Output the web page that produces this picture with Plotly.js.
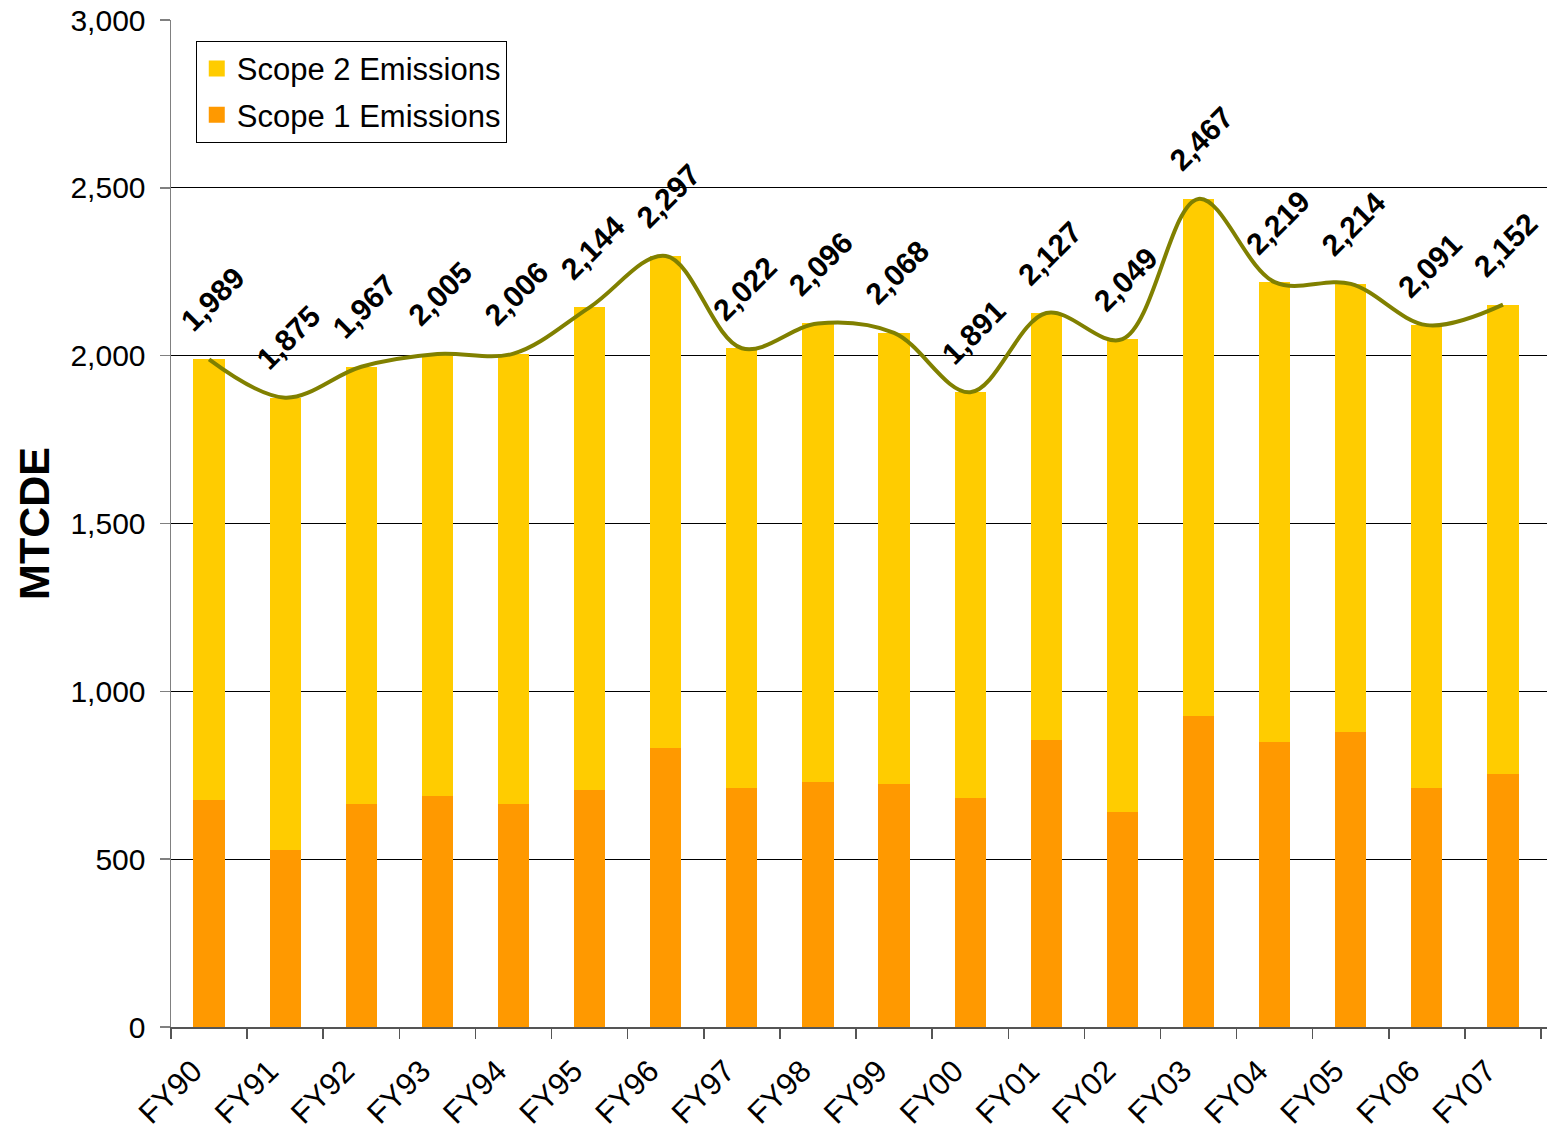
<!DOCTYPE html>
<html>
<head>
<meta charset="utf-8">
<script src="https://cdn.plot.ly/plotly-3.0.1.min.js"></script>
<style>html,body{margin:0;padding:0;background:#fff;}#chart{width:1548px;height:1131px;}</style>
</head>
<body>
<div id="chart"></div>
<script>
var years = ["FY90","FY91","FY92","FY93","FY94","FY95","FY96","FY97","FY98","FY99","FY00","FY01","FY02","FY03","FY04","FY05","FY06","FY07"];
var scope1 = [677, 527, 664, 688, 664, 706, 831, 712, 730, 724, 682, 855, 640, 926, 849, 879, 712, 754];
var scope2 = [1312, 1348, 1303, 1317, 1342, 1438, 1466, 1310, 1366, 1344, 1209, 1272, 1409, 1541, 1370, 1335, 1379, 1398];
var totals = [1989, 1875, 1967, 2005, 2006, 2144, 2297, 2022, 2096, 2068, 1891, 2127, 2049, 2467, 2219, 2214, 2091, 2152];
var yTicks = [0, 500, 1000, 1500, 2000, 2500, 3000];

var FONT = "Arial, 'Liberation Sans', sans-serif";

var traces = [
  {type: "bar", x: years, y: scope1, name: "Scope 1 Emissions", marker: {color: "#FF9900"}, showlegend: false, hoverinfo: "y"},
  {type: "bar", x: years, y: scope2, name: "Scope 2 Emissions", marker: {color: "#FFCC00"}, showlegend: false, hoverinfo: "y"},
  {type: "scatter", mode: "lines", x: years, y: totals, line: {color: "#808000", width: 4, shape: "spline", smoothing: 1}, showlegend: false, hoverinfo: "y"},
  {type: "scatter", mode: "markers", x: [null], y: [null], name: "Scope 2 Emissions", legendgroup: "s2", marker: {symbol: "square", size: 22, color: "#FFCC00"}, showlegend: true},
  {type: "scatter", mode: "markers", x: [null], y: [null], name: "Scope 1 Emissions", legendgroup: "s1", marker: {symbol: "square", size: 22, color: "#FF9900"}, showlegend: true}
];

var annotations = years.map(function (yr, i) {
  return {
    x: yr, y: totals[i], xref: "x", yref: "y",
    text: totals[i].toLocaleString("en-US"),
    showarrow: false, textangle: -45,
    xanchor: "center", yanchor: "middle",
    xshift: 3, yshift: 60,
    font: {family: FONT, size: 30, color: "#000", weight: "bold"}
  };
});

var layout = {
  width: 1548, height: 1131,
  margin: {l: 171, r: 1, t: 20, b: 104, pad: 0},
  paper_bgcolor: "#fff", plot_bgcolor: "#fff",
  font: {family: FONT, color: "#000"},
  barmode: "stack",
  bargap: 0.59,
  showlegend: true,
  legend: {
    x: 0.018, y: 0.9794, xanchor: "left", yanchor: "top",
    bgcolor: "#fff", bordercolor: "#000", borderwidth: 1,
    font: {family: FONT, size: 31, color: "#000"},
    traceorder: "grouped", tracegroupgap: 3,
    itemsizing: "trace"
  },
  xaxis: {
    type: "category",
    categoryorder: "array", categoryarray: years,
    showline: true, linecolor: "#555", linewidth: 1.5,
    ticks: "outside", ticklen: 10, tickcolor: "#555", tickwidth: 1.5,
    tickson: "boundaries",
    tickangle: -45,
    tickfont: {family: FONT, size: 31, color: "#000"},
    showgrid: false, zeroline: false,
    ticklabelshift: -16,
    ticklabelstandoff: 12
  },
  yaxis: {
    range: [0, 3000],
    tickvals: yTicks,
    ticktext: yTicks.map(function (v) { return v.toLocaleString("en-US"); }),
    showline: true, linecolor: "#808080", linewidth: 1.5,
    ticks: "outside", ticklen: 10, tickcolor: "#808080", tickwidth: 1.5,
    tickfont: {family: FONT, size: 30, color: "#000"},
    ticklabelstandoff: 8,
    showgrid: true, gridcolor: "#000", gridwidth: 1,
    zeroline: false,
    title: {text: "MTCDE", standoff: 7, font: {family: FONT, size: 43, color: "#000", weight: "bold"}}
  },
  annotations: annotations
};

Plotly.newPlot("chart", traces, layout, {displayModeBar: false, staticPlot: true});
</script>
</body>
</html>
